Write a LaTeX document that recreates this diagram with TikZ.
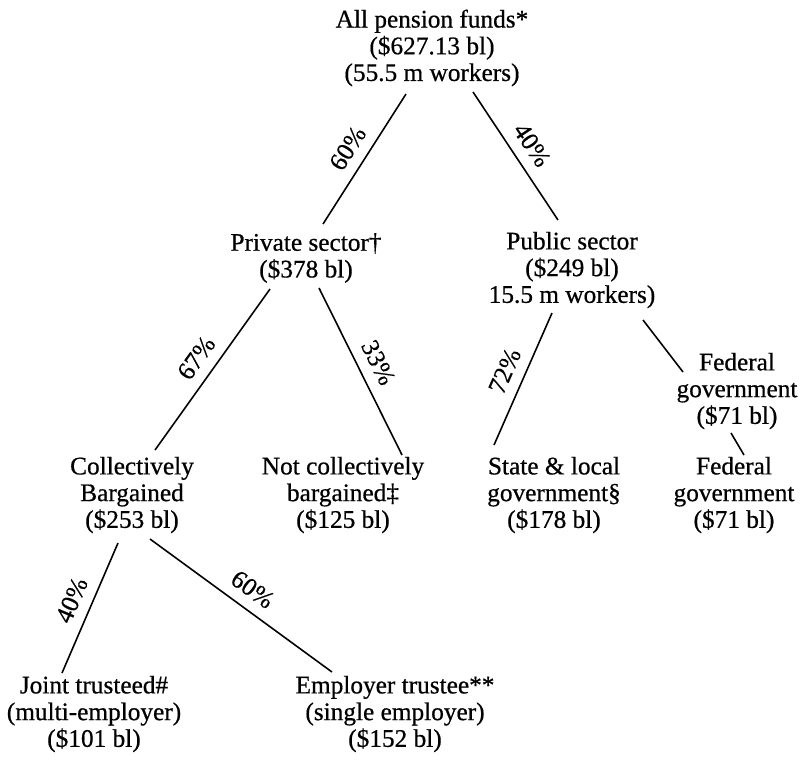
\documentclass[tikz,border=0pt]{standalone}
\usepackage{fontspec}
\setmainfont{Liberation Serif}[FakeBold=0.6]
\usepackage{tikz}

\tikzset{
	fund/.style={align=center, inner sep=0pt, font=\fontsize{14.4}{15.2}\selectfont},
	pct/.style={midway, sloped, above=4pt, inner sep=2pt, font=\fontsize{14.4}{15.2}\selectfont},
	branch/.style={black, line width=0.9pt}
}

\begin{document}
\begin{tikzpicture}
	\useasboundingbox (0,0) rectangle (16.12,-15.26);
	
	\node[fund] (root) at (8.64,-0.96){All pension funds*\\(\$627.13 bl)\\(55.5 m workers)};
	\node[fund] (priv) at (6.12,-5.16){Private sector†\\(\$378 bl)};
	\node[fund] (pub) at (11.44,-5.40){Public sector\\(\$249 bl)\\15.5 m workers)};
	\node[fund] (fedA) at (14.74,-7.82){Federal\\government\\(\$71 bl)};
	\node[fund] (coll) at (2.64,-9.90){Collectively\\Bargained\\(\$253 bl)};
	\node[fund] (notcb) at (6.86,-9.90){Not collectively\\bargained‡\\(\$125 bl)};
	\node[fund] (state) at (11.08,-9.90){State \& local\\government§\\(\$178 bl)};
	\node[fund] (fedB) at (14.68,-9.90){Federal\\government\\(\$71 bl)};
	\node[fund] (joint) at (1.88,-14.28){Joint trusteed\#\\(multi-employer)\\(\$101 bl)};
	\node[fund] (empl) at (7.90,-14.28){Employer trustee**\\(single employer)\\(\$152 bl)};
	
	\draw[branch]([shift={(-0.52,-0.92)}]root.center)--([shift={(0.34,0.68)}]priv.center) node[pct]{60\%};
	\draw[branch]([shift={(0.82,-0.88)}]root.center)--([shift={(-0.28,1.00)}]pub.center) node[pct]{40\%};
	\draw[branch]([shift={(-0.72,-0.62)}]priv.center)--([shift={(0.46,0.90)}]coll.center) node[pct]{67\%};
	\draw[branch]([shift={(0.26,-0.60)}]priv.center)--([shift={(1.18,0.80)}]notcb.center) node[pct]{33\%};
	\draw[branch]([shift={(-0.40,-0.86)}]pub.center)--([shift={(-1.20,1.00)}]state.center) node[pct]{72\%};
	\draw[branch]([shift={(1.42,-1.00)}]pub.center)--([shift={(-1.08,0.38)}]fedA.center);
	\draw[branch]([shift={(-0.12,-0.84)}]fedA.center)--([shift={(0.20,0.80)}]fedB.center);
	\draw[branch]([shift={(-0.28,-0.96)}]coll.center)--([shift={(-0.64,0.82)}]joint.center) node[pct]{40\%};
	\draw[branch]([shift={(0.36,-0.88)}]coll.center)--([shift={(-1.26,0.84)}]empl.center) node[pct]{60\%};
\end{tikzpicture}
\end{document}
